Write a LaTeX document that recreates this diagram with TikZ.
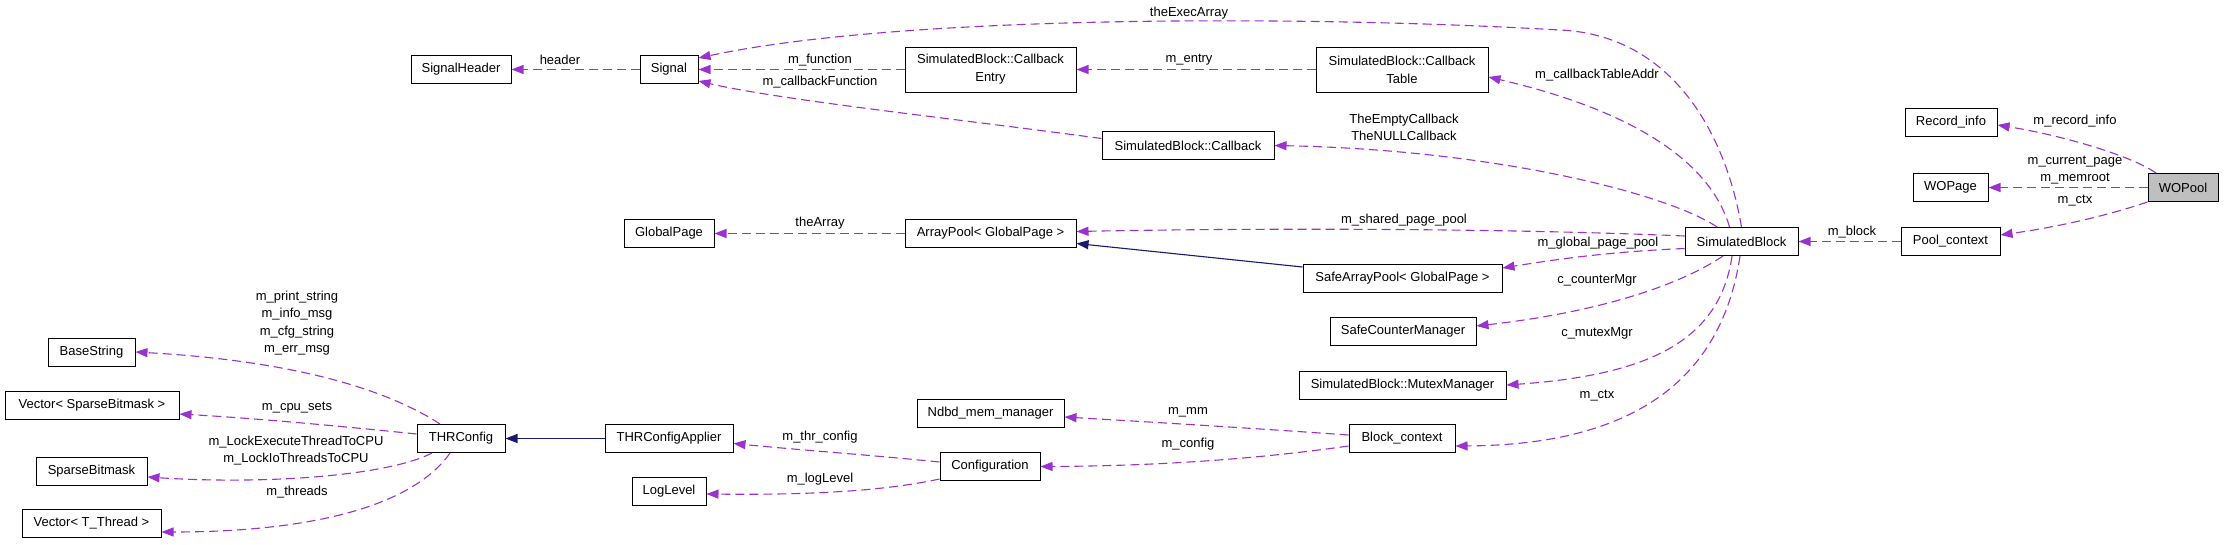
\documentclass[tikz,border=0pt]{standalone}
\usepackage{fontspec}
\setmainfont{Liberation Sans}
\usetikzlibrary{arrows.meta}
\definecolor{edgepurple}{HTML}{9A32CD}
\definecolor{inhnavy}{HTML}{191970}
\definecolor{focusgrey}{HTML}{BFBFBF}
\tikzset{
  cls/.style={draw=black, line width=1pt, inner sep=2pt, minimum height=28pt, align=center, font=\fontsize{13}{18}\selectfont},
  mem/.style={draw=edgepurple, line width=1.1pt, dash pattern=on 9pt off 5pt, -{Triangle[length=12pt,width=9pt]}},
  inh/.style={draw=inhnavy, line width=1.1pt, -{Triangle[length=12pt,width=9pt]}},
  lbl/.style={inner sep=0pt, align=center, font=\fontsize{13}{17.5}\selectfont}
}
\begin{document}
\begin{tikzpicture}[x=1pt,y=-1pt]
\fill[white] (0,0) rectangle (2224,544);
\useasboundingbox (0,0) rectangle (2224,544);
% classes
\node[cls, minimum width=100pt] (sh) at (461,69.5) {SignalHeader};
\node[cls, minimum width=58pt] (sig) at (669,69.5) {Signal};
\node[cls, minimum width=171pt, minimum height=45pt] (cbe) at (990.5,69.5) {SimulatedBlock::Callback\\Entry};
\node[cls, minimum width=172pt, minimum height=45pt] (cbt) at (1402,69.5) {SimulatedBlock::Callback\\Table};
\node[cls, minimum width=172pt] (cb) at (1188,145.5) {SimulatedBlock::Callback};
\node[cls, minimum width=92pt] (ri) at (1951,122.5) {Record\_info};
\node[cls, minimum width=75pt] (wop) at (1950.5,187.5) {WOPage};
\node[cls, minimum width=70pt, fill=focusgrey] (wpool) at (2183,187.5) {WOPool};
\node[cls, minimum width=99pt] (pc) at (1950.5,241.5) {Pool\_context};
\node[cls, minimum width=113pt] (sb) at (1741.5,241.5) {SimulatedBlock};
\node[cls, minimum width=90pt] (gp) at (669,233.5) {GlobalPage};
\node[cls, minimum width=171pt] (ap) at (990.5,233.5) {ArrayPool< GlobalPage >};
\node[cls, minimum width=199pt] (sap) at (1402.5,278) {SafeArrayPool< GlobalPage >};
\node[cls, minimum width=146pt] (scm) at (1403,331.5) {SafeCounterManager};
\node[cls, minimum width=207pt] (mx) at (1402.5,385) {SimulatedBlock::MutexManager};
\node[cls, minimum width=147pt] (nd) at (990.5,413) {Ndbd\_mem\_manager};
\node[cls, minimum width=106pt] (bc) at (1402,438.5) {Block\_context};
\node[cls, minimum width=100pt] (cfg) at (990,466.5) {Configuration};
\node[cls, minimum width=128pt] (tca) at (669,438.5) {THRConfigApplier};
\node[cls, minimum width=74pt] (ll) at (669,491.5) {LogLevel};
\node[cls, minimum width=88pt] (thr) at (461,438.5) {THRConfig};
\node[cls, minimum width=87pt] (bs) at (91.5,352) {BaseString};
\node[cls, minimum width=174pt] (vsb) at (92,405) {Vector< SparseBitmask >};
\node[cls, minimum width=111pt] (spb) at (91.5,471) {SparseBitmask};
\node[cls, minimum width=139pt] (vtt) at (91.5,523.5) {Vector< T\_Thread >};
% connectors
\draw[mem] (sig.west) -- (sh.east);
\draw[mem] (cbe.west) -- (sig.east);
\draw[mem] ([yshift=7pt]cb.west) .. controls (950,118) and (780,100) .. ([yshift=3pt]sig.south east);
\coordinate (ea) at (1560,30);
\draw[mem] (sb.north) .. controls (1725,130) and (1670,35) .. (ea) .. controls (1300,15) and (900,15) .. ([yshift=-3pt]sig.north east);
\draw[mem] (cbt.west) -- (cbe.east);
\draw[mem] ([xshift=-12pt]sb.north) .. controls (1710,160) and (1630,110) .. ([yshift=-7.5pt]cbt.east);
\draw[mem] ([xshift=-24.5pt]sb.north) .. controls (1670,195) and (1500,150) .. (cb.east);
\draw[mem] (ap.west) -- (gp.east);
\draw[mem] ([yshift=5.5pt]sb.west) .. controls (1500,228) and (1250,228) .. ([yshift=2pt]ap.east);
\draw[inh] ([yshift=11pt]sap.west) -- ([yshift=-10pt]ap.east);
\draw[mem] ([yshift=-7pt]sb.west) .. controls (1600,252) and (1540,262) .. ([yshift=10pt]sap.east);
\draw[mem] ([xshift=-18.5pt]sb.south) .. controls (1680,285) and (1600,312) .. ([yshift=5.5pt]scm.east);
\draw[mem] ([xshift=-9.5pt]sb.south) .. controls (1720,340) and (1650,375) .. (mx.east);
\draw[mem] ([xshift=-1.5pt]sb.south) .. controls (1720,390) and (1620,445) .. ([yshift=-7.5pt]bc.east);
\draw[mem] ([yshift=3.5pt]bc.west) .. controls (1250,428) and (1150,422) .. ([yshift=-4pt]nd.east);
\draw[mem] ([yshift=-7.5pt]bc.west) .. controls (1250,460) and (1150,466) .. (cfg.east);
\draw[mem] ([yshift=4.5pt]cfg.west) .. controls (870,455) and (800,450) .. ([yshift=-5pt]tca.east);
\draw[mem] ([yshift=-12.5pt]cfg.west) .. controls (880,492) and (800,495) .. ([yshift=-2.5pt]ll.east);
\draw[inh] (tca.west) -- (thr.east);
\draw[mem] ([xshift=-21pt]thr.north) .. controls (380,385) and (280,360) .. (bs.east);
\draw[mem] ([yshift=4.5pt]thr.west) .. controls (330,425) and (250,418) .. ([yshift=-9pt]vsb.east);
\draw[mem] ([xshift=-29pt]thr.south) .. controls (390,475) and (270,485) .. ([yshift=-6pt]spb.east);
\draw[mem] ([xshift=-11pt]thr.south) .. controls (410,510) and (300,532) .. ([yshift=-8.5pt]vtt.east);
\draw[mem] (pc.west) -- (sb.east);
\draw[mem] ([xshift=-27pt]wpool.north) .. controls (2130,155) and (2060,135) .. ([yshift=-2.5pt]ri.east);
\draw[mem] (wpool.west) -- (wop.east);
\draw[mem] (wpool.south west) .. controls (2100,218) and (2050,228) .. ([yshift=6.5pt]pc.east);
% labels
\node[lbl] (lhead) at (560,60) {header};
\node[lbl] (lfunc) at (820,60) {m\_function};
\node[lbl] (lcbf) at (820,82) {m\_callbackFunction};
\node[lbl] (lexec) at (1189,13) {theExecArray};
\node[lbl] (lentry) at (1189,60) {m\_entry};
\node[lbl] (lempty) at (1404,127.5) {TheEmptyCallback\\TheNULLCallback};
\node[lbl] (ltab) at (1597,75) {m\_callbackTableAddr};
\node[lbl] (lrec) at (2075,121) {m\_record\_info};
\node[lbl] (lcur) at (2075,170) {m\_current\_page\\m\_memroot};
\node[lbl] (lctxa) at (2075,201) {m\_ctx};
\node[lbl] (lblock) at (1852,232) {m\_block};
\node[lbl] (larr) at (820,223) {theArray};
\node[lbl] (lshared) at (1404,220) {m\_shared\_page\_pool};
\node[lbl] (lglobal) at (1598,243) {m\_global\_page\_pool};
\node[lbl] (lcnt) at (1597,280) {c\_counterMgr};
\node[lbl] (lmtx) at (1597,333) {c\_mutexMgr};
\node[lbl] (lctxb) at (1597,396) {m\_ctx};
\node[lbl] (lmm) at (1188,412) {m\_mm};
\node[lbl] (lcfg) at (1188,444) {m\_config};
\node[lbl] (lthr) at (820,437) {m\_thr\_config};
\node[lbl] (llog) at (820,479) {m\_logLevel};
\node[lbl] (lstr) at (297,323) {m\_print\_string\\m\_info\_msg\\m\_cfg\_string\\m\_err\_msg};
\node[lbl] (lcpu) at (297,408) {m\_cpu\_sets};
\node[lbl] (llock) at (296,450.5) {m\_LockExecuteThreadToCPU\\m\_LockIoThreadsToCPU};
\node[lbl] (lthreads) at (297,492) {m\_threads};
\end{tikzpicture}
\end{document}
